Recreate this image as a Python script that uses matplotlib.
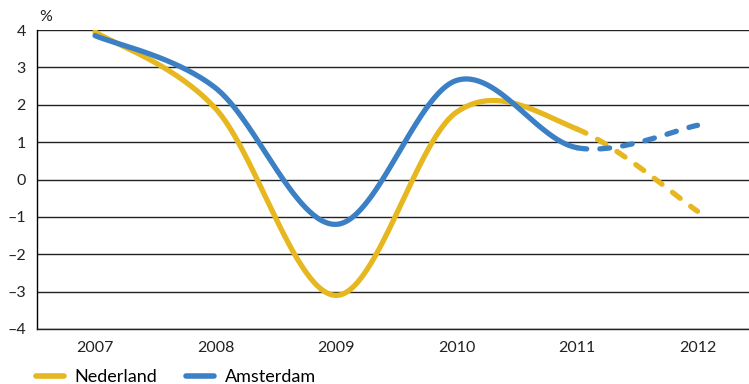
import numpy as np
import matplotlib
matplotlib.use("Agg")
import matplotlib.pyplot as plt

years = [2007, 2008, 2009, 2010, 2011, 2012]
nederland = [3.95, 1.9, -3.1, 1.8, 1.35, -0.85]
amsterdam = [3.85, 2.45, -1.2, 2.65, 0.85, 1.45]
yticks = [4, 3, 2, 1, 0, -1, -2, -3, -4]
ytick_labels = ["4", "3", "2", "1", "0", "–1", "–2", "–3", "–4"]
forecast_from = 2011

YELLOW = "#E6B71E"
BLUE = "#3B80C4"

plt.rcParams['font.family'] = ['Lato', 'DejaVu Sans']


def smooth(x, y, n=60):
    x = np.asarray(x, float)
    y = np.asarray(y, float)
    xs, ys = [], []
    for i in range(len(x) - 1):
        p0 = np.array([x[max(i - 1, 0)], y[max(i - 1, 0)]])
        p1 = np.array([x[i], y[i]])
        p2 = np.array([x[i + 1], y[i + 1]])
        p3 = np.array([x[min(i + 2, len(x) - 1)], y[min(i + 2, len(x) - 1)]])
        c1 = p1 + (p2 - p0) / 6.0
        c2 = p2 - (p3 - p1) / 6.0
        t = np.linspace(0, 1, n)[:, None]
        pts = ((1 - t) ** 3) * p1 + 3 * ((1 - t) ** 2) * t * c1 + 3 * (1 - t) * t ** 2 * c2 + t ** 3 * p2
        if i > 0:
            pts = pts[1:]
        xs.append(pts[:, 0])
        ys.append(pts[:, 1])
    return np.concatenate(xs), np.concatenate(ys)


fig = plt.figure(figsize=(7.49, 3.84), dpi=100)
ax = fig.add_axes([37 / 749, 1 - 329 / 384, 1 - 37 / 749, (329 - 30) / 384])

for vals, col, lab in [(nederland, YELLOW, "Nederland"), (amsterdam, BLUE, "Amsterdam")]:
    sx, sy = smooth(years, vals)
    solid = sx <= forecast_from
    dashed = sx >= forecast_from
    ax.plot(sx[solid], sy[solid], color=col, lw=3.8, solid_capstyle='round', label=lab, zorder=3)
    ax.plot(sx[dashed], sy[dashed], color=col, lw=3.8, dashes=(1.85, 2.5), dash_capstyle='round', zorder=3)

ax.set_ylim(-4, 4)
ax.set_xlim(2007 - 58 / 120.5, 2007 + 654 / 120.5)
ax.set_yticks(yticks)
ax.set_yticklabels(ytick_labels)
ax.set_xticks(years)
ax.set_xticklabels([str(y) for y in years])
for yv in yticks:
    ax.axhline(yv, color="#222222", lw=1.0, zorder=1)
for s in ["top", "right"]:
    ax.spines[s].set_visible(False)
ax.spines["left"].set_color("black")
ax.spines["left"].set_linewidth(1.0)
ax.spines["bottom"].set_color("#222222")
ax.spines["bottom"].set_linewidth(1.0)
ax.tick_params(axis='both', length=0, labelsize=11.5, colors="#222222")
ax.tick_params(axis='y', pad=8)
ax.tick_params(axis='x', pad=9)

fig.text(39 / 749, 1 - 17 / 384, "%", fontsize=11.5, color="#222222", va="center", ha="left")

leg = fig.legend(loc="center left", bbox_to_anchor=(36 / 749, 1 - 377 / 384), ncol=2, frameon=False,
                 fontsize=13, handlelength=1.55, columnspacing=1.6, handletextpad=0.6,
                 borderpad=0, borderaxespad=0)
for h in leg.legend_handles:
    h.set_linewidth(4)
    h.set_solid_capstyle('round')

fig.savefig("out.png", dpi=100)
